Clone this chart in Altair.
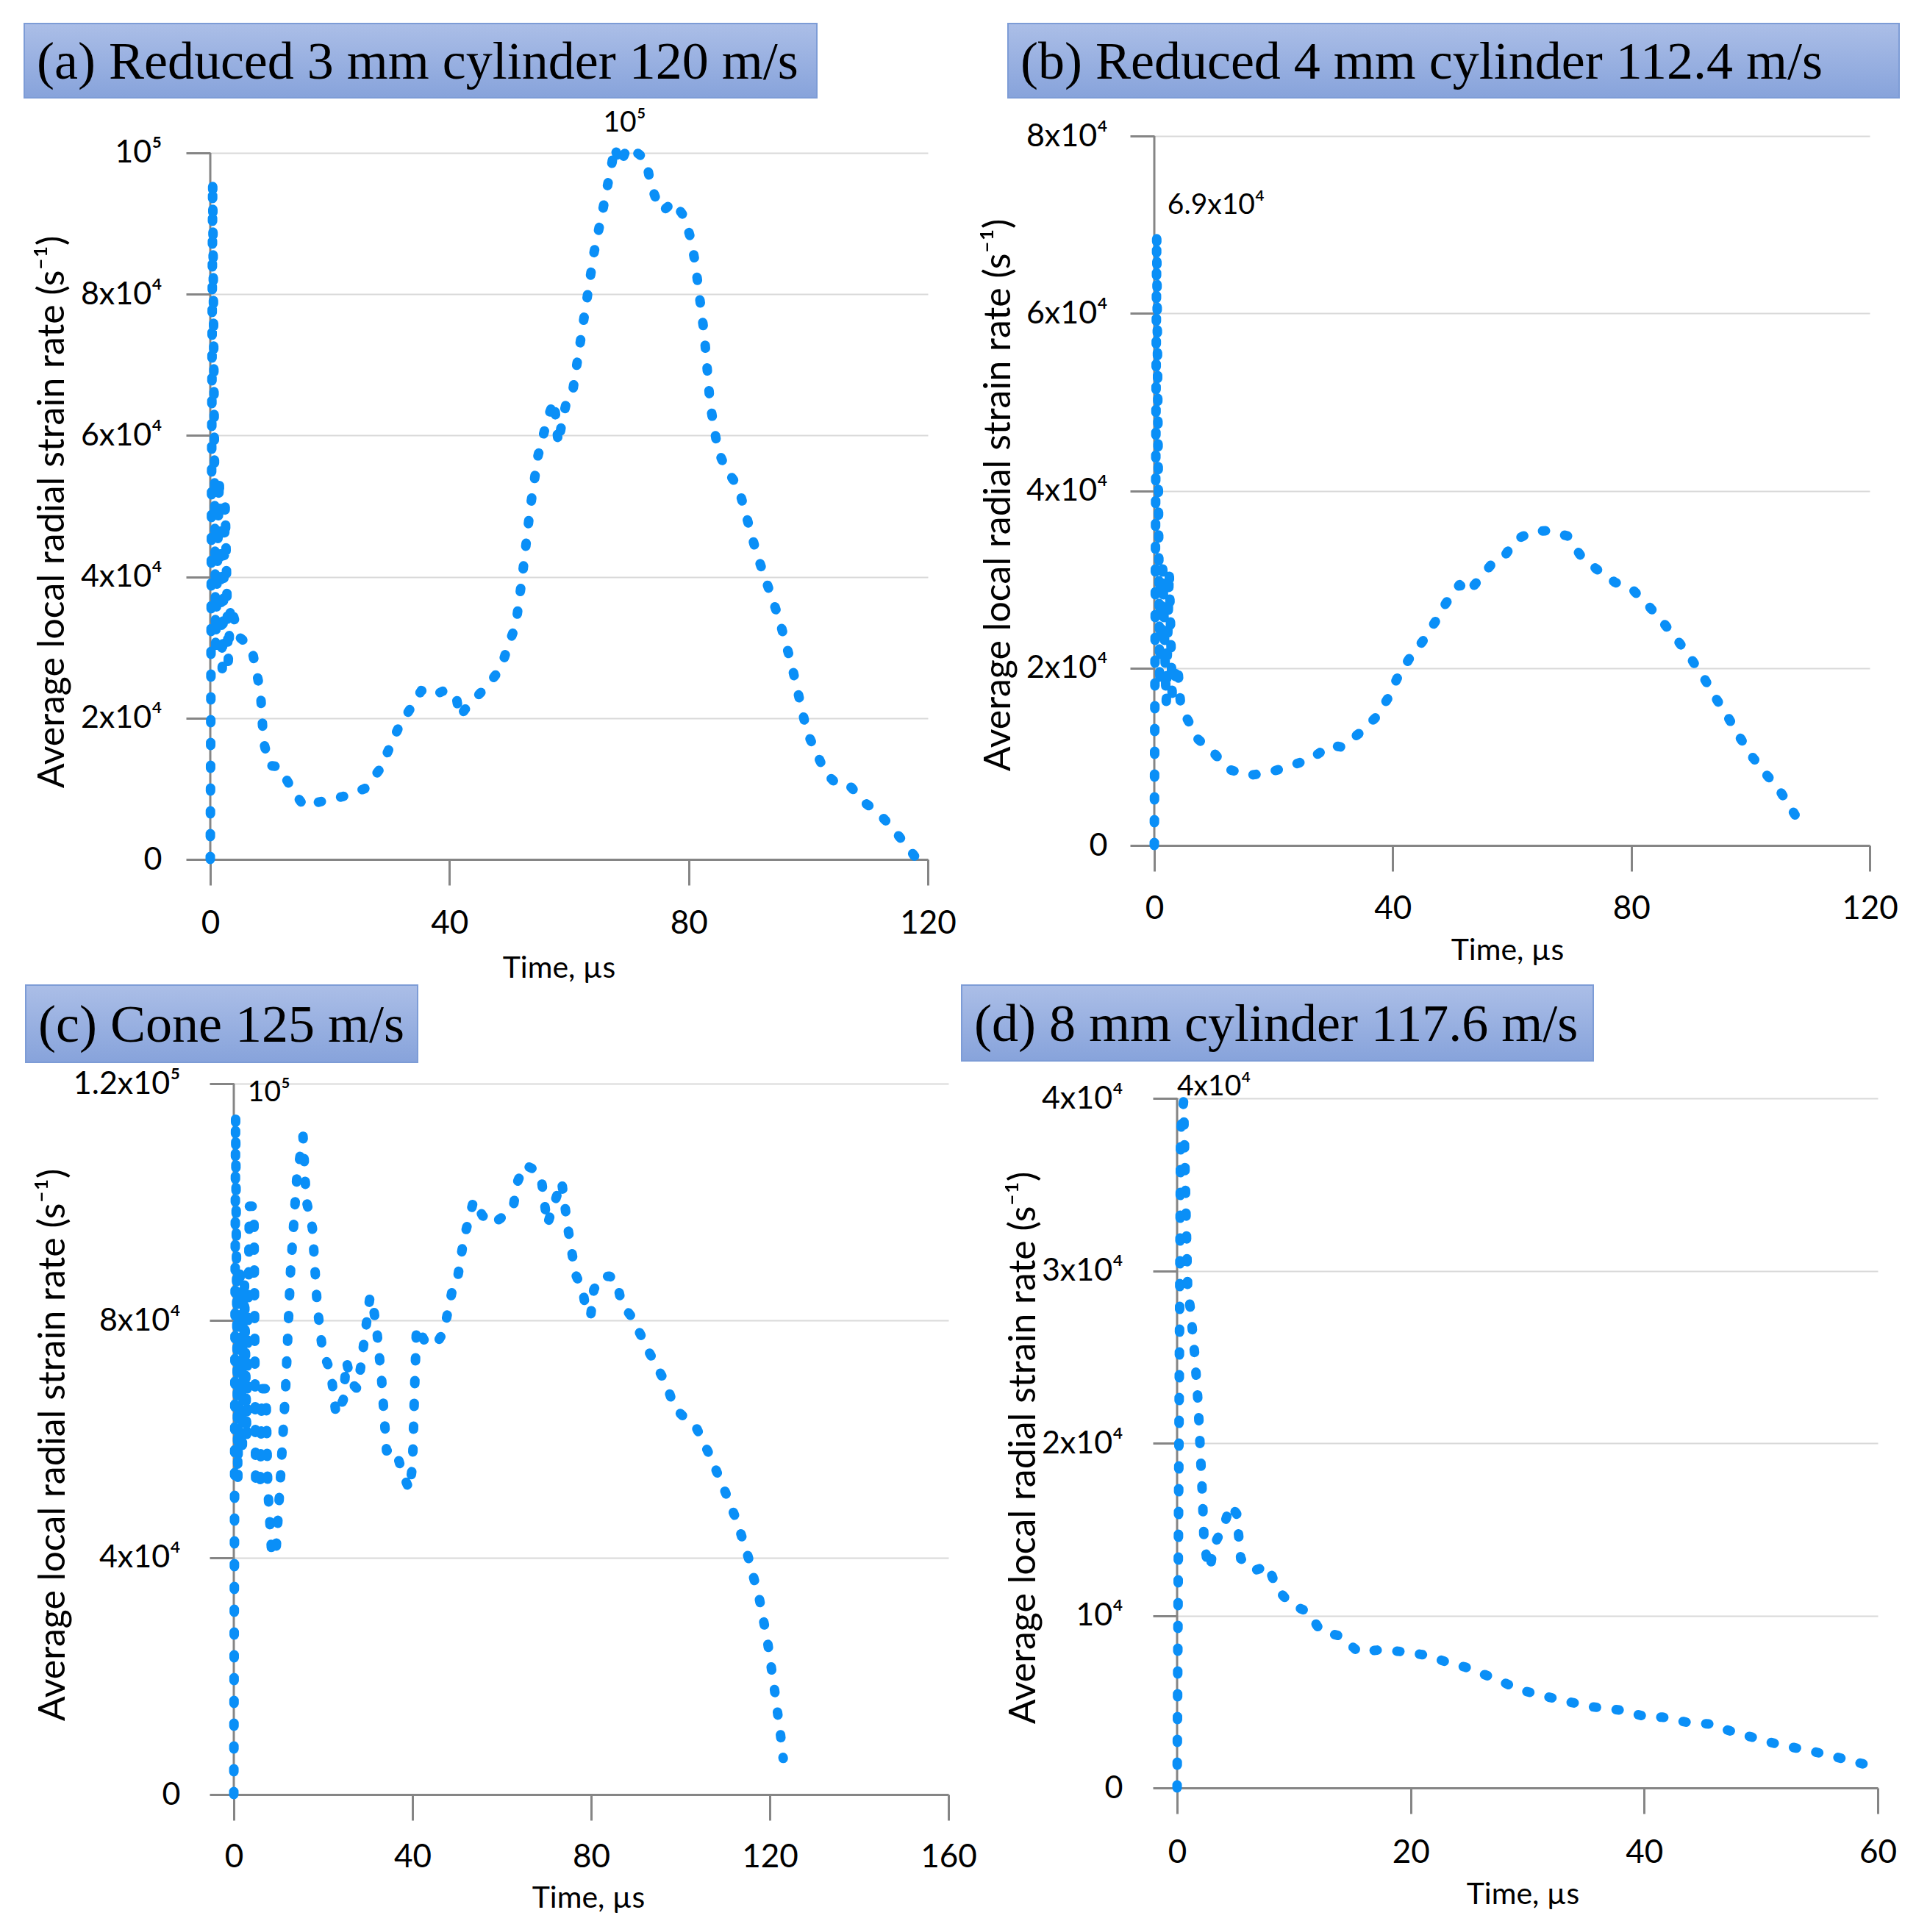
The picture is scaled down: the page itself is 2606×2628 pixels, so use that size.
import altair as alt
import pandas as pd

# ---------------- data (time in µs, strain rate in 1/s) ----------------
ta = [0, 0.4, 0.9, 1.5, 2.0, 2.5, 3.0, 3.4, 4.8, 6.9, 8.4, 8.9, 9.9, 11.5, 13.5, 15.6, 18.6, 22.2,
      25.8, 28.4, 31.4, 35.3, 37.4, 39.1, 41.1, 41.7, 43.2, 46.3, 48.6, 49.8, 51.1, 52.2, 53.5, 54.8,
      56.5, 57.5, 58.2, 58.8, 59.6, 60.6, 62.4, 64.2, 65.7, 67.2, 67.6, 68.5, 69.8, 71.4, 72.9, 73.6,
      74.9, 75.7, 77.5, 79.3, 80.4, 81.1, 82.6, 83.6, 84.9, 86.2, 88.3, 91.4, 95.1, 97.2, 99.8, 102.9,
      105.1, 107.2, 109.3, 111.5, 113.9, 116.2, 118.2]
va = [0, 96000, 30000, 54000, 27000, 50000, 28000, 36000, 31500, 30000, 23700, 16700, 13300, 13100,
      10200, 7600, 8200, 8900, 10000, 12800, 18500, 23900, 23200, 23900, 23200, 20200, 21900, 24500,
      27100, 30200, 33200, 40200, 49700, 57100, 62700, 64900, 58800, 61800, 64900, 66200, 76100,
      86000, 92200, 98700, 100900, 98300, 100900, 100000, 99000, 95700, 92600, 91800, 93100, 90900,
      87700, 84400, 74400, 64400, 57900, 55300, 52700, 43200, 34100, 27600, 18000, 12200, 10400,
      10200, 8100, 6800, 4600, 2200, 0]

tb = [0, 0.4, 0.9, 1.4, 2.0, 2.5, 3.0, 3.5, 3.9, 4.4, 5.5, 7.3, 9.9, 12.4, 15.8, 19.1, 23.0, 26.3,
      29.6, 31.4, 34.3, 37.1, 39.2, 40.7, 42.8, 45.0, 47.1, 48.9, 51.2, 52.6, 54.6, 56.8, 58.7, 60.7,
      63.5, 66.1, 69.3, 71.5, 74.1, 77.2, 80.3, 82.8, 85.4, 87.8, 90.0, 92.1, 94.1, 96.2, 98.3,
      100.3, 102.4, 104.7, 106.7, 108.7]
vb = [0, 68900, 18000, 31500, 16000, 31000, 17000, 19000, 20400, 16000, 14300, 12000, 10500, 8600,
      7900, 8200, 9000, 9800, 11300, 11100, 12600, 14400, 16600, 18800, 21100, 23000, 25200, 27300,
      29400, 28500, 30100, 31900, 32600, 34500, 35400, 35500, 34900, 32700, 31200, 29700, 28800,
      27100, 25100, 23100, 21100, 19000, 16700, 14500, 12100, 10000, 8200, 6400, 4300, 2100]

tc = [0, 0.4, 0.9, 1.4, 1.9, 2.4, 2.9, 3.5, 4.5, 4.9, 5.9, 6.3, 7.2, 7.6, 8.5, 9.4, 10.4, 11.6,
      12.7, 14.1, 15.5, 16.2, 17.6, 18.7, 19.9, 21.7, 22.9, 24.5, 25.2, 26.3, 27.6, 28.4, 30.5, 31.4,
      32.1, 33.1, 34.2, 35.2, 36.6, 38.0, 39.3, 40.0, 40.4, 40.9, 41.8, 42.9, 45.3, 47.0, 48.8, 49.9,
      51.5, 53.7, 55.7, 58.0, 60.5, 62.6, 63.4, 65.1, 67.0, 68.8, 70.2, 71.3, 73.4, 74.8, 76.5, 78.1,
      78.9, 79.9, 80.6, 82.0, 84.1, 85.7, 86.8, 89.2, 93.1, 97.0, 98.6, 100.7, 103.5, 106.6, 109.7,
      112.7, 115.2, 117.7, 119.5, 121.0, 122.4, 123.0]
vc = [0, 114700, 53000, 88000, 58000, 86000, 60000, 99300, 99300, 52000, 52000, 68500, 68500, 52000,
      40500, 40500, 52800, 68500, 88300, 104000, 111100, 100400, 95600, 82300, 74700, 71400, 64100,
      66600, 73200, 69500, 68500, 72100, 84100, 81500, 77700, 70000, 58000, 58500, 57200, 53800,
      51500, 55400, 66400, 78900, 77900, 76300, 76000, 78100, 84700, 86200, 93800, 100300, 97700,
      96300, 97700, 99300, 103200, 106300, 105600, 104200, 96200, 98800, 103500, 95600, 87800,
      85200, 81500, 80800, 85200, 87300, 87500, 86800, 82900, 80500, 74500, 69000, 65300, 63800,
      62000, 57200, 51700, 46000, 40000, 32900, 25800, 18000, 10100, 6100]

td = [0, 0.3, 0.55, 0.9, 1.15, 1.5, 1.8, 2.15, 2.3, 2.57, 2.83, 3.1, 4.0, 4.56, 5.1, 5.45, 6.6, 7.8,
      8.5, 9.65, 11.2, 12.3, 14.0, 15.5, 17.3, 19.4, 21.3, 23.1, 24.7, 26.6, 28.7, 29.9, 31.0, 33.5,
      35.6, 38.1, 40.3, 41.6, 43.7, 45.8, 46.9, 49.2, 51.6, 53.9, 56.1, 58.7, 59.1]
vd = [0, 38000, 39800, 29100, 27700, 25200, 22300, 17200, 14500, 13100, 12700, 14000, 15200, 16400,
      15900, 13300, 12600, 12900, 11600, 10700, 10200, 9100, 8800, 7900, 8000, 7900, 7700, 7300,
      7000, 6500, 5900, 5600, 5400, 5000, 4700, 4500, 4100, 4100, 3800, 3700, 3400, 2950, 2500,
      2200, 1850, 1400, 1350]

titles = ["(a) Reduced 3 mm cylinder 120 m/s", "(b) Reduced 4 mm cylinder 112.4 m/s",
          "(c) Cone 125 m/s", "(d) 8 mm cylinder 117.6 m/s"]

xticks_ab = [0, 40, 80, 120]
xticks_c = [0, 40, 80, 120, 160]
xticks_d = [0, 20, 40, 60]
yticks_a = [0, 20000, 40000, 60000, 80000, 100000]
ylabels_a = ["0", "2x10⁴", "4x10⁴", "6x10⁴", "8x10⁴", "10⁵"]
yticks_b = [0, 20000, 40000, 60000, 80000]
ylabels_b = ["0", "2x10⁴", "4x10⁴", "6x10⁴", "8x10⁴"]
yticks_c = [0, 40000, 80000, 120000]
ylabels_c = ["0", "4x10⁴", "8x10⁴", "1.2x10⁵"]
yticks_d = [0, 10000, 20000, 30000, 40000]
ylabels_d = ["0", "10⁴", "2x10⁴", "3x10⁴", "4x10⁴"]

# peak annotations: (time, value, text, align)
ann_a = (69.3, 104300, "10⁵", "center")
ann_b = (2.2, 72200, "6.9x10⁴", "left")
ann_c = (3.1, 118500, "10⁵", "left")
ann_d = (0.0, 40700, "4x10⁴", "left")

# ---------------- styling ----------------
FONT = "Lato, 'Noto Sans', 'DejaVu Sans', sans-serif"
AX = "#858585"
GRID = "#d9d9d9"
BLUE = "#0a8ff7"
YTITLE = "Average local radial strain rate (s⁻¹)"


def label_expr(vals, labels):
    s = ""
    for v, l in zip(vals, labels):
        s += f"datum.value == {v} ? '{l}' : "
    return s + "''"


def panel(t, v, xdom, ydom, xticks, yticks, ylabels, w, h, yoff, ylpad, xlpad,
          ytx, yty, xtx, xty, box, title, ann):
    xs = alt.Scale(domain=xdom, nice=False, zero=False)
    ys = alt.Scale(domain=ydom, nice=False, zero=False)
    df = pd.DataFrame({"t": t, "v": v, "i": list(range(len(t)))})

    xaxis = alt.Axis(values=xticks, title="Time, µs", grid=False,
                     domainColor=AX, domainWidth=3, tickColor=AX, tickWidth=3, tickSize=35,
                     labelFont=FONT, labelFontSize=44, labelColor="black",
                     labelPadding=xlpad, labelBaseline="middle", labelAngle=0,
                     labelFlush=False, labelOverlap=False,
                     titleFont=FONT, titleFontSize=41, titleFontWeight="normal",
                     titleColor="black", titleX=xtx, titleY=xty, titleBaseline="middle",
                     titleAlign="center")
    yaxis = alt.Axis(values=yticks, labelExpr=label_expr(yticks, ylabels), title=YTITLE,
                     domain=False, grid=True, gridColor=GRID, gridWidth=2,
                     tickColor=AX, tickWidth=3, tickSize=33, offset=yoff,
                     labelFont=FONT, labelFontSize=43, labelColor="black",
                     labelPadding=ylpad, labelBaseline="middle", labelOverlap=False,
                     titleFont=FONT, titleFontSize=50, titleFontWeight="normal",
                     titleColor="black", titleAngle=270, titleX=ytx, titleY=yty,
                     titleBaseline="middle", titleAlign="center")

    axis_line = alt.Chart(pd.DataFrame({"t": [0], "v": [0], "v1": [yticks[-1]]})).mark_rule(
        color=AX, strokeWidth=3).encode(
        x=alt.X("t:Q", scale=xs, axis=xaxis),
        y=alt.Y("v:Q", scale=ys, axis=yaxis),
        y2="v1:Q")

    line = alt.Chart(df).mark_line(
        color=BLUE, strokeWidth=13, strokeDash=[4, 27], strokeCap="round",
        strokeJoin="round", clip=False).encode(
        x=alt.X("t:Q", scale=xs, axis=xaxis),
        y=alt.Y("v:Q", scale=ys, axis=yaxis),
        order="i:Q")

    ann_df = pd.DataFrame({"t": [ann[0]], "v": [ann[1]], "s": [ann[2]]})
    annot = alt.Chart(ann_df).mark_text(
        font=FONT, fontSize=39, align=ann[3], baseline="middle", color="black",
        clip=False).encode(
        x=alt.X("t:Q", scale=xs, axis=xaxis),
        y=alt.Y("v:Q", scale=ys, axis=yaxis),
        text="s:N")

    one = pd.DataFrame({"k": [0]})
    grad = alt.LinearGradient(gradient="linear", x1=0, x2=0, y1=0, y2=1,
                              stops=[alt.GradientStop(color="#abbee7", offset=0),
                                     alt.GradientStop(color="#87a3db", offset=1)])
    rect = alt.Chart(one).mark_rect(fill=grad, stroke="#7d9cd6", strokeWidth=2).encode(
        x=alt.value(box[0]), x2=alt.value(box[1]), y=alt.value(box[2]), y2=alt.value(box[3]))
    ttl = alt.Chart(one).mark_text(
        font="Liberation Serif", fontSize=72, align="left", baseline="middle",
        color="black").encode(
        x=alt.value(box[0] + 17), y=alt.value((box[2] + box[3]) / 2 + 2),
        text=alt.value(title))

    return alt.layer(axis_line, line, annot, rect, ttl).properties(width=w, height=h)


pa = panel(ta, va, [0, 120], [0, 102390], xticks_ab, yticks_a, ylabels_a, 976, 984, 0, 33, 52,
           -215, 511, 474, 148, (-253, 825, -153, -52), titles[0], ann_a)
pb = panel(tb, vb, [0, 120], [0, 80000], xticks_ab, yticks_b, ylabels_b, 973, 965, 0, 31, 51,
           -212, 488, 480, 143, (-199, 1013, -153, -52), titles[1], ann_b)
pc = panel(tc, vc, [-5.267, 160], [0, 120000], xticks_c, yticks_c, ylabels_c, 1004, 967, -32, 40, 50,
           -246, 491, 514, 141, (-251, 282, -134, -29), titles[2], ann_c)
pd_ = panel(td, vd, [-1.952, 60], [0, 40853], xticks_d, yticks_d, ylabels_d, 984, 958, -31, 41, 53,
            -209, 495, 501, 145, (-262, 597, -134, -31), titles[3], ann_d)

chart = alt.concat(pa, pb, pc, pd_, columns=2, spacing={"row": 305, "column": 280},
                   bounds="flush").properties(
    padding={"left": 24, "top": 23, "right": 10, "bottom": 10}
).configure(font=FONT).configure_view(strokeWidth=0)

chart.save("out.html", embed_options={"renderer": "svg", "actions": False})
